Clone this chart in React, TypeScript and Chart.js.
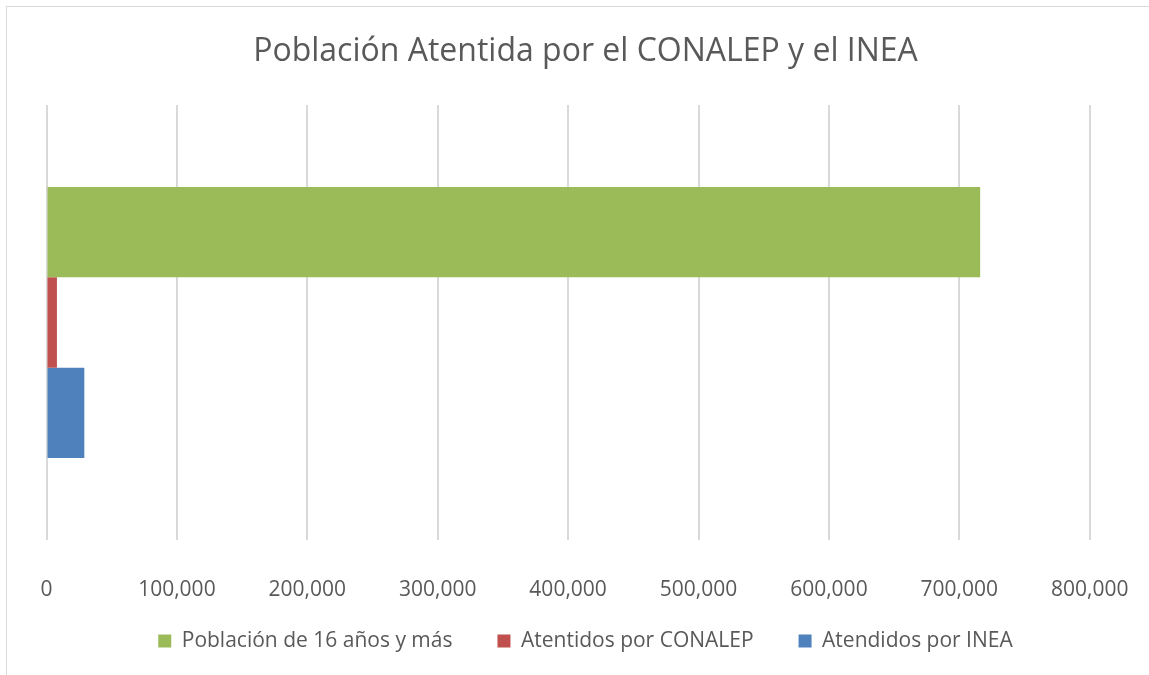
import React, { useEffect, useRef } from 'react';
import { Chart, registerables } from 'chart.js';

Chart.register(...registerables);

const chartTitle = 'Población Atentida por el CONALEP y el INEA';
const categories = [''];
const seriesNames = ['Población de 16 años y más', 'Atentidos por CONALEP', 'Atendidos por INEA'];
const poblacion16 = [716000];
const atendidosConalep = [8000];
const atendidosInea = [29000];
const seriesColors = ['#9BBB59', '#C0504D', '#4F81BD'];
const xTickLabels = ['0', '100,000', '200,000', '300,000', '400,000', '500,000', '600,000', '700,000', '800,000'];

const FONT = "'Open Sans', 'Liberation Sans', sans-serif";
const TEXT = '#595959';

const framePlugin = {
  id: 'frame',
  beforeDraw(chart: any) {
    const ctx = chart.ctx;
    ctx.save();
    ctx.fillStyle = '#ffffff';
    ctx.fillRect(0, 0, chart.width, chart.height);
    ctx.strokeStyle = '#d9d9d9';
    ctx.lineWidth = 1;
    ctx.strokeRect(6.5, 6.5, chart.width + 20, chart.height + 20);
    ctx.restore();
  },
};

export default function App() {
  const ref = useRef<HTMLCanvasElement | null>(null);

  useEffect(() => {
    if (!ref.current) return;
    const seriesData = [poblacion16, atendidosConalep, atendidosInea];
    const chart = new Chart(ref.current, {
      type: 'bar',
      data: {
        labels: categories,
        datasets: seriesNames.map((name, i) => ({
          label: name,
          data: seriesData[i],
          backgroundColor: seriesColors[i],
          borderWidth: 0,
          barPercentage: 1,
          categoryPercentage: 0.623,
        })),
      },
      options: {
        indexAxis: 'y',
        responsive: false,
        animation: false,
        layout: { padding: { left: 22, right: 0, top: 0, bottom: 13.5 } },
        scales: {
          x: {
            min: 0,
            max: 800000,
            border: { display: false },
            grid: { color: '#d9d9d9', lineWidth: 2, drawTicks: false },
            ticks: {
              stepSize: 100000,
              padding: 37,
              color: TEXT,
              font: { family: FONT, size: 21 },
              callback: (value: any, index: number) => xTickLabels[index] ?? String(value),
            },
            afterFit: (scale: any) => {
              scale.height = 45.5;
              scale.paddingLeft = 46.5;
              scale.paddingRight = 59.3;
              // let the tick labels extend below the (shortened) axis box
              scale._computeLabelArea = () => undefined;
            },
          },
          y: {
            display: false,
          },
        },
        plugins: {
          title: {
            display: true,
            text: chartTitle,
            color: TEXT,
            font: { family: FONT, size: 32, weight: 'normal' },
            padding: { top: 33, bottom: 33.6 },
          },
          legend: {
            display: true,
            position: 'bottom',
            labels: {
              color: TEXT,
              font: { family: FONT, size: 21 },
              boxWidth: 13,
              boxHeight: 13,
              padding: 45,
            },
          },
          tooltip: { enabled: false },
        },
      },
      plugins: [framePlugin],
    } as any);
    return () => chart.destroy();
  }, []);

  return (
    <div style={{ position: 'fixed', left: 0, top: 0, width: 1149, height: 675, background: '#fff' }}>
      <canvas ref={ref} width={1149} height={675} style={{ display: 'block' }} />
    </div>
  );
}
